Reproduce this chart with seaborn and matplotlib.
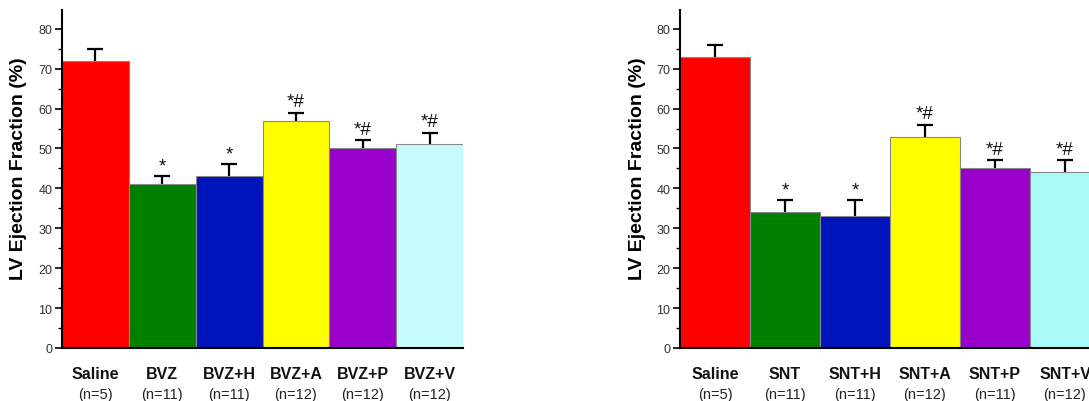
import matplotlib
matplotlib.use("Agg")
import matplotlib.pyplot as plt
import seaborn as sns
import numpy as np
import pandas as pd
from matplotlib.ticker import MultipleLocator

# ---- data ----
left_groups = ["Saline", "BVZ", "BVZ+H", "BVZ+A", "BVZ+P", "BVZ+V"]
left_n = ["(n=5)", "(n=11)", "(n=11)", "(n=12)", "(n=12)", "(n=12)"]
left_values = [72, 41, 43, 57, 50, 51]
left_errors = [3, 2, 3, 2, 2, 3]
left_marks = ["", "*", "*", "*#", "*#", "*#"]

right_groups = ["Saline", "SNT", "SNT+H", "SNT+A", "SNT+P", "SNT+V"]
right_n = ["(n=5)", "(n=11)", "(n=11)", "(n=12)", "(n=11)", "(n=12)"]
right_values = [73, 34, 33, 53, 45, 44]
right_errors = [3, 3, 4, 3, 2, 3]
right_marks = ["", "*", "*", "*#", "*#", "*#"]

left_colors = ["#FF0000", "#008000", "#0014BC", "#FFFF00", "#9900CC", "#C6FCFC"]
right_colors = ["#FF0000", "#008000", "#0014BC", "#FFFF00", "#9900CC", "#AAFAFA"]

y_ticks = [0, 10, 20, 30, 40, 50, 60, 70, 80]
y_label = "LV Ejection Fraction (%)"

sns.set_theme(style="ticks")
plt.rcParams["font.family"] = ["Liberation Sans", "DejaVu Sans"]

fig = plt.figure(figsize=(10.89, 4.02), dpi=100)
W, H = 1089, 402


def panel(rect, label_xy, groups, ns, values, errors, marks, colors):
    ax = fig.add_axes(rect)
    df = pd.DataFrame({"group": groups, "value": values})
    sns.barplot(data=df, x="group", y="value", hue="group", palette=colors,
                saturation=1, width=1.0, edgecolor="#888888", linewidth=0.8,
                legend=False, ax=ax)
    for p in ax.patches:
        p.set_zorder(3)
    pos = np.arange(len(groups))
    # symmetric bars drawn behind the columns, so only the upper half shows
    ax.errorbar(pos, values, yerr=errors, fmt="none",
                ecolor="black", elinewidth=1.6, capsize=5.5, capthick=1.6, zorder=2)
    for x, v, e, m in zip(pos, values, errors, marks):
        if m:
            ax.annotate(m, (x, v + e), xytext=(0, 1.5), textcoords="offset points",
                        ha="center", va="bottom", fontsize=13.5, color="#111111",
                        zorder=4)
    ax.set_xlim(-0.5, len(groups) - 0.5)
    ax.set_ylim(0, 84.7)
    ax.set_yticks(y_ticks)
    ax.yaxis.set_minor_locator(MultipleLocator(5))
    ax.tick_params(axis="y", which="major", length=5, width=1.2, labelsize=9,
                   labelcolor="#333333", color="black", pad=2)
    ax.tick_params(axis="y", which="minor", length=3, width=1.0, color="black")
    ax.tick_params(axis="x", length=0, pad=13, labelsize=11.5)
    for lab in ax.get_xticklabels():
        lab.set_fontweight("bold")
        lab.set_color("#111111")
    trans = ax.get_xaxis_transform()
    for x, n in zip(pos, ns):
        ax.text(x, -0.136, n, transform=trans, ha="center", va="center",
                fontsize=10.5, color="#222222")
    ax.set_xlabel("")
    ax.set_ylabel(y_label, fontsize=14, fontweight="bold", color="black")
    ax.yaxis.set_label_coords(label_xy[0] / W, 1 - label_xy[1] / H,
                              transform=fig.transFigure)
    for s in ["top", "right"]:
        ax.spines[s].set_visible(False)
    for s in ["left", "bottom"]:
        ax.spines[s].set_linewidth(1.5)
        ax.spines[s].set_color("black")
        ax.spines[s].set_zorder(5)
    ax.set_facecolor("white")
    return ax


bottom = 1 - 349 / H
top = 1 - 11 / H
panel([62 / W, bottom, (463 - 62) / W, top - bottom], (27, 169),
      left_groups, left_n, left_values, left_errors, left_marks, left_colors)
panel([680 / W, bottom, (1100 - 680) / W, top - bottom], (646, 169),
      right_groups, right_n, right_values, right_errors, right_marks, right_colors)

fig.savefig("out.png", dpi=100, facecolor="white")
